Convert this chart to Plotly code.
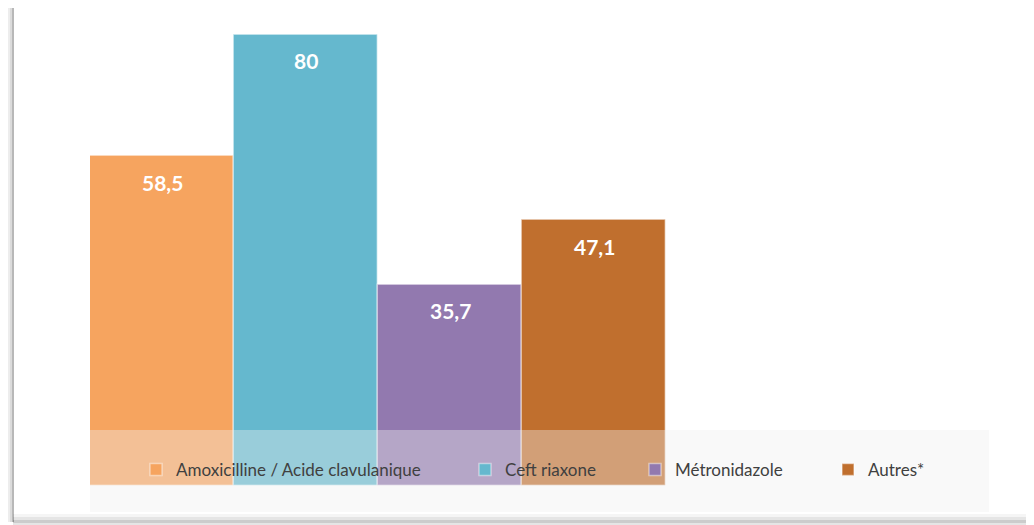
import plotly.graph_objects as go

categories = ["Amoxicilline / Acide clavulanique", "Ceftriaxone", "Métronidazole", "Autres*"]
legend_names = ["Amoxicilline / Acide clavulanique", "Ceft riaxone", "Métronidazole", "Autres*"]
values = [58.5, 80, 35.7, 47.1]
colors = ["#F6A45F", "#65B8CE", "#9279AF", "#C06F2E"]

OFF = 8  # page body margin offset
W, H = 1034 - OFF, 525 - OFF
L, R, T, B = 90 - OFF, 44, 10 - OFF, 39
PW, PH = W - L - R, H - T - B


def px_x(p):
    return (p - OFF - L) / PW


def px_y(p):
    return (H - B - (p - OFF)) / PH


fig = go.Figure()
legend_ids = ["legend", "legend2", "legend3", "legend4"]
for i, (cat, name, val, col) in enumerate(zip(categories, legend_names, values, colors)):
    fig.add_trace(go.Bar(
        x=[cat], y=[val], name=name,
        marker=dict(color=col, line=dict(color="rgba(255,255,255,0.45)", width=1.5)),
        legend=legend_ids[i], showlegend=True,
        hoverinfo="skip",
    ))
    fig.add_annotation(
        x=cat, y=val, xref="x", yref="y",
        text=f"{val:g}".replace(".", ","),
        showarrow=False, yanchor="middle", yshift=-26,
        font=dict(family="Lato", size=21, color="white", weight="bold"),
    )

# legend background band (semi-transparent, over the bars)
fig.add_shape(type="rect", xref="paper", yref="paper",
              x0=px_x(90), x1=px_x(989), y0=px_y(512), y1=px_y(430),
              fillcolor="rgba(238,238,238,0.38)", line=dict(width=0), layer="above")

# frame shadow (left and bottom)
shadow_left = [(5, 8, "rgba(0,0,0,0.03)"), (8, 10, "rgba(0,0,0,0.07)"),
               (10, 12, "rgba(0,0,0,0.14)"), (12, 14, "rgba(0,0,0,0.28)")]
for a, b, c in shadow_left:
    fig.add_shape(type="rect", xref="paper", yref="paper",
                  x0=px_x(a), x1=px_x(b), y0=px_y(522), y1=px_y(8),
                  fillcolor=c, line=dict(width=0), layer="above")
shadow_bottom = [(514, 517, "rgba(0,0,0,0.04)"), (517, 520, "rgba(0,0,0,0.10)"),
                 (520, 523, "rgba(0,0,0,0.20)"), (523, 525, "rgba(0,0,0,0.10)")]
for a, b, c in shadow_bottom:
    fig.add_shape(type="rect", xref="paper", yref="paper",
                  x0=px_x(13), x1=px_x(1034), y0=px_y(b), y1=px_y(a),
                  fillcolor=c, line=dict(width=0), layer="above")

legend_left_px = [136, 465, 635, 828]
legend_font = dict(family="Lato", size=17, color="#404040")
layout_legends = {}
for lid, lx in zip(legend_ids, legend_left_px):
    layout_legends[lid] = dict(
        x=px_x(lx), y=px_y(470), xanchor="left", yanchor="middle",
        bgcolor="rgba(0,0,0,0)", font=legend_font, orientation="h",
        itemclick=False, itemdoubleclick=False,
    )

fig.update_layout(
    width=W, height=H,
    margin=dict(l=L, r=R, t=T, b=B),
    paper_bgcolor="white", plot_bgcolor="white",
    bargap=0,
    xaxis=dict(visible=False, range=[-0.5, 5.75], type="category",
               categoryorder="array", categoryarray=categories),
    yaxis=dict(visible=False, range=[0, 84.4]),
    **layout_legends,
)

fig.write_html("out.html")
